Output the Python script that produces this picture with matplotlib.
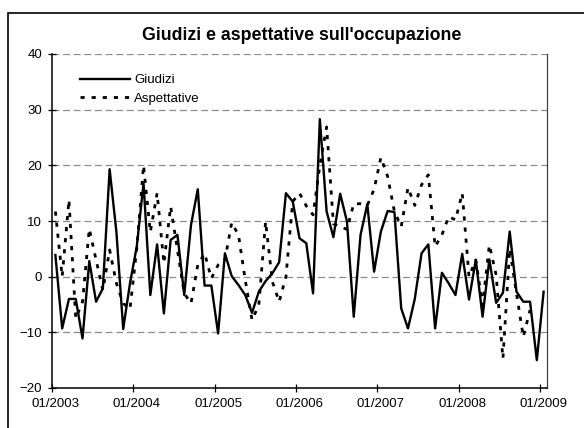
import numpy as np
import matplotlib.pyplot as plt
from matplotlib.patches import Rectangle

plt.rcParams['font.family'] = ['Liberation Sans', 'DejaVu Sans']

# monthly data, 01/2003 - 01/2009
giudizi = [3.9, -9.3, -4.0, -4.0, -11.1, 2.8, -4.5, -2.1, 19.3, 8.0,
           -9.4, -1.2, 5.4, 16.8, -3.3, 5.8, -6.6, 6.6, 7.5, -3.3,
           9.3, 15.7, -1.6, -1.6, -10.2, 4.2, 0.1, -1.5, -3.3, -6.5,
           -2.7, -0.8, 0.6, 2.6, 15.0, 13.5, 6.9, 6.0, -3.0, 28.3,
           11.7, 7.1, 14.9, 9.9, -7.2, 7.5, 13.0, 0.9, 8.1, 11.8,
           11.6, -5.7, -9.3, -4.0, 4.2, 5.8, -9.3, 0.7, -1.2, -3.3,
           4.1, -4.1, 3.0, -7.2, 3.1, -4.7, -2.9, 8.1, -2.7, -4.5,
           -4.5, -15.0, -2.7]
aspettative = [11.7, 0.0, 13.8, -7.5, -4.5, 8.6, 3.0, -2.4, 4.8, -1.2,
               -4.8, -5.8, 5.0, 20.0, 8.0, 15.0, 2.4, 12.6, 4.8, -3.0,
               -4.8, 2.1, 4.2, -0.3, 2.1, 3.0, 9.7, 7.5, -0.6, -7.8,
               -5.1, 9.9, -0.9, -4.5, 0.0, 13.5, 15.0, 12.7, 11.1, 20.0,
               26.9, 9.5, 9.0, 8.5, 13.1, 13.1, 12.8, 15.7, 21.4, 18.0,
               11.7, 9.0, 16.0, 12.8, 16.5, 18.3, 5.4, 7.5, 10.8, 10.2,
               15.0, 0.0, 3.0, -5.1, 5.7, 0.3, -14.7, 5.0, -3.0, -10.8,
               -6.0, np.nan, np.nan]
tick_labels = ['01/2003', '01/2004', '01/2005', '01/2006', '01/2007', '01/2008', '01/2009']

x = np.arange(len(giudizi))

fig = plt.figure(figsize=(5.84, 4.28), dpi=100)
# outer chart border
fig.patches.append(Rectangle((8 / 584, -0.05), 1.0, 1 - 13 / 428 + 0.05, transform=fig.transFigure,
                             fill=False, edgecolor='black', linewidth=1.2))

ax = fig.add_axes([52 / 584, 1 - 388 / 428, 495 / 584, 334 / 428])
ax.plot(x, giudizi, color='black', linewidth=1.7, label='Giudizi')
ax.plot(x, aspettative, color='black', linewidth=2.0, linestyle=(0, (1.5, 2.5)), label='Aspettative')

ax.set_xlim(-0.5, len(giudizi) - 0.5)
ax.set_ylim(-20, 40)
ax.set_yticks(np.arange(-20, 41, 10))
ax.yaxis.grid(True, color='#8c8c8c', linestyle=(0, (5.5, 3)), linewidth=0.9)
ax.set_axisbelow(True)

ax.set_xticks(np.arange(-0.5, len(giudizi), 12))
ax.set_xticklabels([])
ax.set_xticks(np.arange(0, len(giudizi), 12), minor=True)
ax.set_xticklabels(tick_labels, minor=True)
ax.tick_params(axis='x', which='major', direction='inout', length=6, width=0.9)
ax.tick_params(axis='x', which='minor', length=0, pad=7, labelsize=9.5)
ax.tick_params(axis='y', direction='inout', length=6, width=0.9, pad=4, labelsize=9.5)

ax.spines['top'].set_visible(False)
ax.spines['right'].set_color('#404040')
ax.spines['right'].set_linewidth(0.9)
ax.spines['left'].set_linewidth(1.1)
ax.spines['bottom'].set_linewidth(1.1)

fig.text(302 / 584, 1 - 35 / 428, "Giudizi e aspettative sull'occupazione", ha='center', va='center',
         fontsize=12.8, fontweight='bold')

ax.legend(loc='upper left', bbox_to_anchor=(80 / 584, 1 - 74 / 428), bbox_transform=fig.transFigure,
          frameon=False, fontsize=9.5, handlelength=3.8, handletextpad=0.3, labelspacing=0.5,
          borderpad=0, borderaxespad=0)

fig.savefig('out.png', dpi=100)
